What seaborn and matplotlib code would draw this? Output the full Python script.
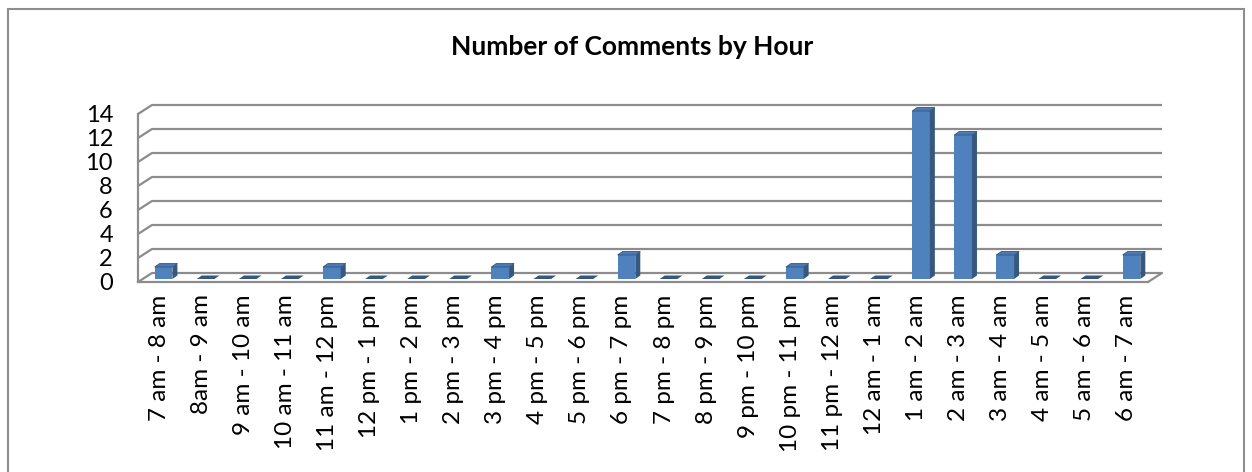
import numpy as np
import pandas as pd
import matplotlib
matplotlib.use('Agg')
import matplotlib.pyplot as plt
from matplotlib.patches import Polygon, Rectangle
import seaborn as sns

# data
hours = ['7 am - 8 am', '8am - 9 am', '9 am - 10 am', '10 am - 11 am', '11 am - 12 pm',
         '12 pm - 1 pm', '1 pm - 2 pm', '2 pm - 3 pm', '3 pm - 4 pm', '4 pm - 5 pm',
         '5 pm - 6 pm', '6 pm - 7 pm', '7 pm - 8 pm', '8 pm - 9 pm', '9 pm - 10 pm',
         '10 pm - 11 pm', '11 pm - 12 am', '12 am - 1 am', '1 am - 2 am', '2 am - 3 am',
         '3 am - 4 am', '4 am - 5 am', '5 am - 6 am', '6 am - 7 am']
comments = [1, 0, 0, 0, 1, 0, 0, 0, 1, 0, 0, 2, 0, 0, 0, 1, 0, 0, 14, 12, 2, 0, 0, 2]
yticks = [0, 2, 4, 6, 8, 10, 12, 14]
title = 'Number of Comments by Hour'

FRONT = '#4F81BD'
SIDE = '#36587F'
TOP = '#4A7AB5'
GRID = '#8C8C8C'

sns.set_style('white')
plt.rcParams['font.family'] = ['Lato', 'DejaVu Sans']

df = pd.DataFrame({'hour': hours, 'comments': comments})

fig = plt.figure(figsize=(12.52, 4.72), dpi=100)
W, H = 1252, 472
ax = fig.add_axes([138 / W, (H - 282) / H, (1148 - 138) / W, 168 / H])

sns.barplot(data=df, x='hour', y='comments', order=hours, color=FRONT,
            saturation=1, width=0.42, ax=ax, zorder=3)

n = len(hours)
ax.set_xlim(-0.5, n - 0.5)
ax.set_ylim(0, yticks[-1])
ax.set_xlabel('')
ax.set_ylabel('')

# pixel -> data unit helpers (figure size is fixed)
px_x = ax.bbox.width / n
px_y = ax.bbox.height / yticks[-1]
def dxp(p):
    return p / px_x
def dyp(p):
    return p / px_y

# back wall gridlines and side wall diagonals
back_dx, back_dy = dxp(14), dyp(9)
for y in yticks:
    ax.plot([-0.5 + back_dx, n - 0.5 + back_dx], [y + back_dy, y + back_dy],
            color=GRID, lw=1.6, clip_on=False, zorder=1, solid_capstyle='butt')
    ax.plot([-0.5, -0.5 + back_dx], [y, y + back_dy],
            color=GRID, lw=1.6, clip_on=False, zorder=1)
ax.plot([n - 0.5, n - 0.5 + back_dx], [0, back_dy], color=GRID, lw=1.6,
        clip_on=False, zorder=1)

# fake 3d columns built on the seaborn bars
fdx, fdy = dxp(4.5), dyp(3)
sdx, sdy = dxp(5), dyp(3.5)
for p in list(ax.patches):
    x0 = p.get_x() + fdx
    w = p.get_width()
    h = p.get_height()
    p.set_x(x0)
    p.set_y(fdy)
    p.set_edgecolor('none')
    p.set_clip_on(False)
    x1 = x0 + w
    if h > 0:
        side = Polygon([(x1, fdy), (x1, fdy + h), (x1 + sdx, fdy + h + sdy), (x1 + sdx, fdy + sdy)],
                       closed=True, facecolor=SIDE, edgecolor='none', zorder=3, clip_on=False)
        top = Polygon([(x0, fdy + h), (x1, fdy + h), (x1 + sdx, fdy + h + sdy), (x0 + sdx, fdy + h + sdy)],
                      closed=True, facecolor=TOP, edgecolor=SIDE, lw=0.6, zorder=3, clip_on=False)
    else:
        side = Polygon([(x1, fdy), (x1 + sdx, fdy + sdy), (x1 + sdx, fdy + sdy)],
                       closed=True, facecolor=SIDE, edgecolor='none', zorder=3, clip_on=False)
        top = Polygon([(x0, fdy), (x1, fdy), (x1 + sdx, fdy + sdy), (x0 + sdx, fdy + sdy)],
                      closed=True, facecolor=SIDE, edgecolor='none', zorder=3, clip_on=False)
    ax.add_patch(side)
    ax.add_patch(top)

# axes: front lines, ticks, labels
for s in ['top', 'right']:
    ax.spines[s].set_visible(False)
for s in ['left', 'bottom']:
    ax.spines[s].set_color(GRID)
    ax.spines[s].set_linewidth(1.6)
    ax.spines[s].set_zorder(2)

ax.set_yticks(yticks)
ax.set_yticklabels([str(v) for v in yticks])
ax.tick_params(axis='y', length=6, width=1.6, color=GRID, pad=12, labelsize=17,
               labelcolor='#000000', direction='out')

ax.set_xticks(range(n))
ax.set_xticklabels(hours, rotation=90)
ax.set_xticks(np.arange(-0.5, n, 1), minor=True)
ax.tick_params(axis='x', which='major', length=0, pad=9, labelsize=17.5, labelcolor='#000000')
ax.tick_params(axis='x', which='minor', length=6, width=1.6, color=GRID, direction='out')
for lbl in ax.get_xticklabels():
    lbl.set_va('top')

fig.text(632 / W, 1 - 47 / H, title, ha='center', va='center',
         fontsize=19, fontweight='bold', color='#000000')

# chart area border
fig.patches.append(Rectangle((7.5 / W, -0.05), (1244 - 7.5) / W, 1.05 - 8.5 / H,
                             transform=fig.transFigure, fill=False,
                             edgecolor='#8E8E8E', lw=1.5, zorder=0))

fig.savefig('out.png', dpi=100, facecolor='white')
